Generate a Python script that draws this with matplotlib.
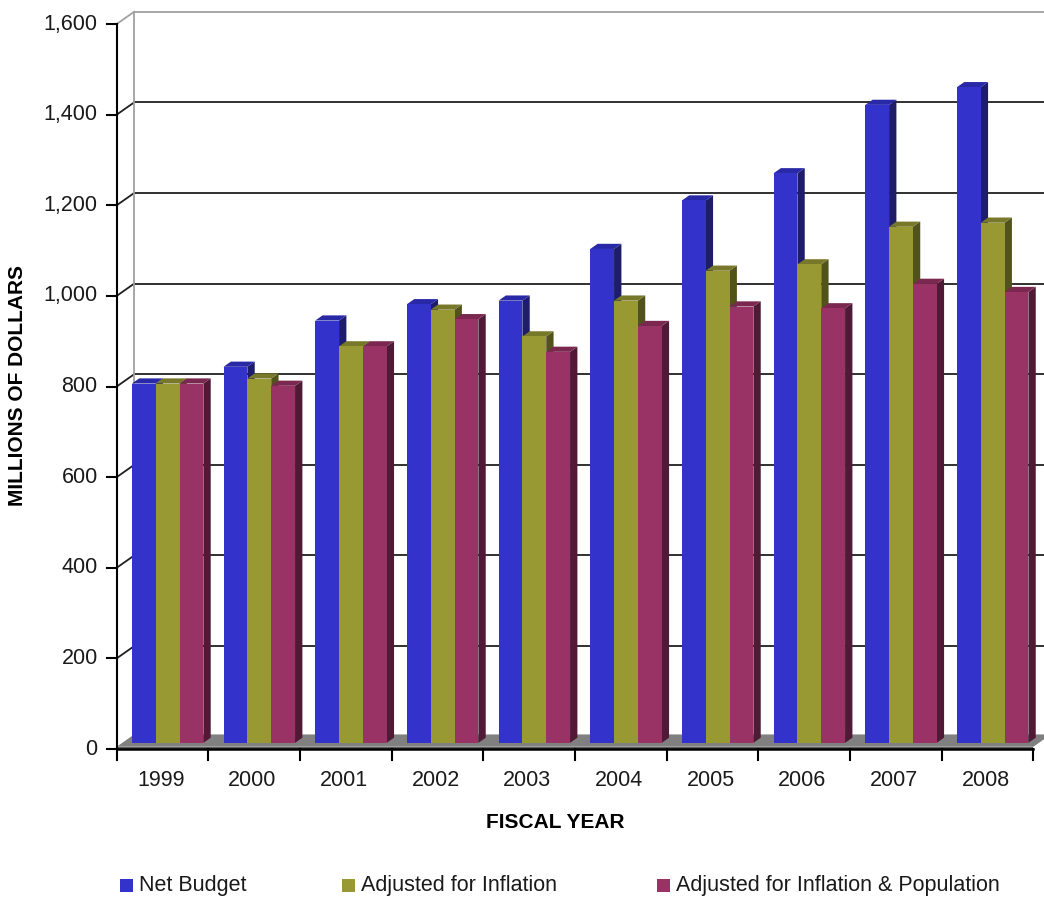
import matplotlib.pyplot as plt
from matplotlib.patches import Polygon, Rectangle

plt.rcParams['font.family'] = ['Liberation Sans', 'DejaVu Sans']

years = ["1999", "2000", "2001", "2002", "2003", "2004", "2005", "2006", "2007", "2008"]
net_budget = [793, 830, 932, 968, 976, 1090, 1197, 1257, 1408, 1447]
adj_inflation = [793, 804, 875, 956, 897, 976, 1042, 1056, 1139, 1148]
adj_infl_pop = [793, 788, 875, 935, 863, 920, 963, 959, 1013, 995]
series_names = ["Net Budget", "Adjusted for Inflation", "Adjusted for Inflation & Population"]
y_ticks = [0, 200, 400, 600, 800, 1000, 1200, 1400, 1600]

front_colors = ["#3333cc", "#999933", "#993366"]
top_colors = ["#2929a8", "#78782a", "#7a2850"]
side_colors = ["#1d1d6b", "#52521d", "#4f1a35"]

W, H = 1044, 897
fig = plt.figure(figsize=(W / 100, H / 100), dpi=100)
ax = fig.add_axes([0, 0, 1, 1])

# one category = 91.67 px, one dollar unit = 0.4531 px; origin of the front plane at (116.7, 749)
SX, SY = 91.67, 0.4531
X0, Y0 = 116.7, 749
ax.set_xlim(-X0 / SX, (W - X0) / SX)
ax.set_ylim((Y0 - H) / SY, Y0 / SY)
ax.axis('off')

# full depth of the box (front axis -> back wall)
DX, DY = 17.5 / SX, 12.3 / SY
ymax = y_ticks[-1]
xright = (W - X0) / SX + 0.05

# back wall and side-wall grid
for v in y_ticks[1:]:
    c = '#a0a0a0' if v == ymax else '#202020'
    ax.plot([0, DX], [v, v + DY], color=c, lw=1.3, zorder=1)
    ax.plot([DX, xright], [v + DY, v + DY], color=c, lw=1.3, zorder=1)
ax.plot([DX, DX], [DY, ymax + DY], color='#a0a0a0', lw=1.3, zorder=1)

# floor slab
n = len(years)
fl = 5
ax.add_patch(Polygon([(0, fl), (n, fl), (n + DX, fl + DY), (DX, fl + DY)],
                     closed=True, facecolor='#808080', edgecolor='none', zorder=2))
ax.add_patch(Polygon([(0, 0), (n, 0), (n, fl), (0, fl)],
                     closed=True, facecolor='#5a5a5a', edgecolor='none', zorder=2))

# 3D bars, drawn left to right so each front face hides the previous side face
series = [net_budget, adj_inflation, adj_infl_pop]
BAR_OFF, BAR_W = 0.07, 0.26
bdx, bdy = 0.42 * DX, 0.42 * DY
z = 3
for i in range(n):
    for k, vals in enumerate(series):
        h = vals[i]
        fx = i + BAR_OFF + k * BAR_W + 0.5 * DX
        fy = 0.5 * DY
        side = [(fx + BAR_W, fy), (fx + BAR_W, fy + h),
                (fx + BAR_W + bdx, fy + h + bdy), (fx + BAR_W + bdx, fy + bdy)]
        top = [(fx, fy + h), (fx + BAR_W, fy + h),
               (fx + BAR_W + bdx, fy + h + bdy), (fx + bdx, fy + h + bdy)]
        ax.add_patch(Polygon(side, closed=True, facecolor=side_colors[k], edgecolor='none', zorder=z))
        ax.add_patch(Polygon(top, closed=True, facecolor=top_colors[k], edgecolor='none', zorder=z))
        ax.add_patch(Rectangle((fx, fy), BAR_W, h, facecolor=front_colors[k],
                               edgecolor='none', zorder=z))
        z += 1

# front axes
ax.plot([0, 0], [0, ymax], color='black', lw=1.5, zorder=50)
for v in y_ticks:
    ax.plot([-10 / SX, 0], [v, v], color='black', lw=1.5, zorder=50)
    ax.text(-19 / SX, v, f"{v:,}", ha='right', va='center', fontsize=15.5, color='#1a1a1a')
ax.plot([0, n], [0, 0], color='black', lw=1.8, zorder=50)
for i in range(n + 1):
    ax.plot([i, i], [0, -24], color='black', lw=1.5, zorder=50)
for i, yr in enumerate(years):
    ax.text(i + 0.48, -70, yr, ha='center', va='center', fontsize=15.5, color='#1a1a1a')

fig.text(555 / W, 1 - 822 / H, "FISCAL YEAR", ha='center', va='center',
         fontsize=15, fontweight='bold')
fig.text(18 / W, 1 - 385 / H, "MILLIONS OF DOLLARS", ha='center', va='center',
         rotation=90, fontsize=15, fontweight='bold')

# legend
leg_x = [120, 342, 657]
for px, name, c in zip(leg_x, series_names, front_colors):
    fig.patches.append(Rectangle((px / W, 1 - 892 / H), 13 / W, 13 / H,
                                 transform=fig.transFigure, facecolor=c, edgecolor='none'))
    fig.text((px + 19) / W, 1 - 885 / H, name, ha='left', va='center', fontsize=15.5,
             color='#1a1a1a')

fig.savefig("out.png", dpi=100)
